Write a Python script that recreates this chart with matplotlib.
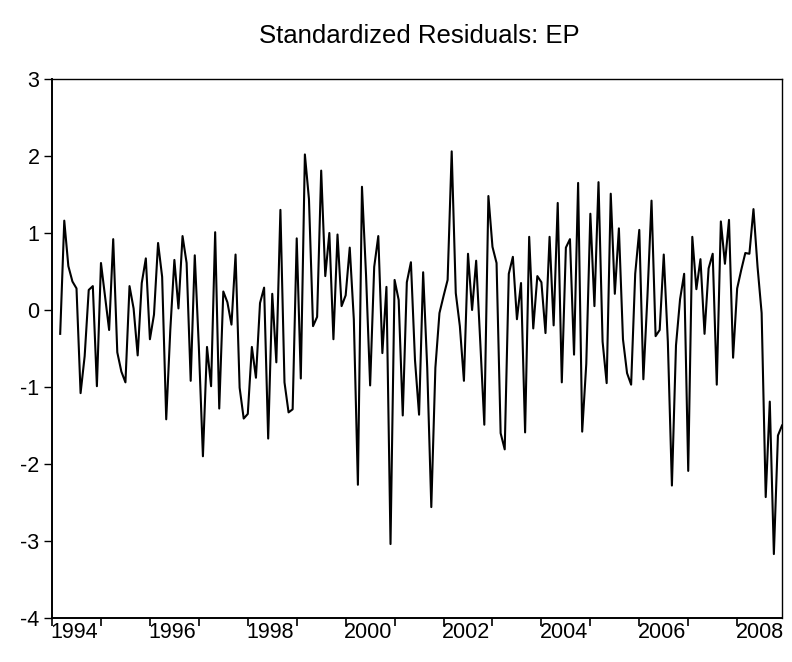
import matplotlib
matplotlib.use("Agg")
import matplotlib.pyplot as plt
import numpy as np

plt.rcParams['font.family'] = ['Liberation Sans', 'DejaVu Sans']
plt.rcParams['axes.unicode_minus'] = False

# monthly standardized residuals, 1994M03 .. 2008M12
resid = [
    -0.31, 1.16, 0.57, 0.37, 0.28, -1.08, -0.60, 0.26, 0.31, -0.99,
    0.61, 0.18, -0.26, 0.92, -0.55, -0.80, -0.94, 0.31, 0.02, -0.59,
    0.35, 0.67, -0.38, -0.06, 0.87, 0.43, -1.42, -0.26, 0.65, 0.02,
    0.96, 0.61, -0.92, 0.71, -0.48, -1.90, -0.48, -0.99, 1.01, -1.28,
    0.24, 0.10, -0.19, 0.72, -1.01, -1.41, -1.35, -0.48, -0.88, 0.09,
    0.29, -1.67, 0.21, -0.68, 1.30, -0.94, -1.33, -1.29, 0.93, -0.89,
    2.02, 1.44, -0.21, -0.09, 1.81, 0.44, 1.00, -0.38, 0.98, 0.05,
    0.19, 0.81, -0.12, -2.27, 1.60, 0.45, -0.98, 0.56, 0.96, -0.56,
    0.30, -3.04, 0.39, 0.13, -1.37, 0.36, 0.62, -0.65, -1.36, 0.49,
    -0.75, -2.56, -0.75, -0.04, 0.18, 0.39, 2.06, 0.22, -0.21, -0.92,
    0.73, 0.00, 0.64, -0.41, -1.49, 1.48, 0.82, 0.61, -1.60, -1.81,
    0.47, 0.69, -0.12, 0.35, -1.59, 0.95, -0.24, 0.44, 0.36, -0.30,
    0.95, -0.20, 1.39, -0.94, 0.81, 0.92, -0.58, 1.65, -1.58, -0.70,
    1.25, 0.05, 1.66, -0.41, -0.95, 1.51, 0.21, 1.06, -0.38, -0.82,
    -0.97, 0.47, 1.04, -0.90, 0.18, 1.42, -0.34, -0.26, 0.72, -0.41,
    -2.28, -0.46, 0.14, 0.47, -2.09, 0.95, 0.27, 0.66, -0.31, 0.54,
    0.73, -0.97, 1.15, 0.60, 1.17, -0.62, 0.28, 0.52, 0.74, 0.73,
    1.31, 0.56, -0.04, -2.43, -1.19, -3.17, -1.63, -1.50,
]
first_year = 1994
first_month = 3
years = list(range(1994, 2009))
label_years = [1994, 1996, 1998, 2000, 2002, 2004, 2006, 2008]

# x in months counted from January of first_year
x = (first_month - 1) + np.arange(len(resid))

fig = plt.figure(figsize=(7.92, 6.62), dpi=100)
ax = fig.add_axes([0.0657, 0.0665, 0.9217, 0.8142])
ax.plot(x, resid, color='black', lw=1.5)

ax.set_xlim(0, x[-1])
ax.set_ylim(-4, 3)
ax.set_yticks(range(-4, 4))

# year boundaries as ticks, labels centred in the year
ax.set_xticks([(y - first_year) * 12 for y in years])
ax.set_xticklabels([])
ax.set_xticks([(y - first_year) * 12 + 5.5 for y in label_years], minor=True)
ax.set_xticklabels([str(y) for y in label_years], minor=True)
ax.tick_params(axis='x', which='minor', length=0, pad=3, labelsize=15.5)
ax.tick_params(axis='x', which='major', length=6, width=1.2)
ax.tick_params(axis='y', length=6, width=1.0, labelsize=15.5, pad=3)

for side in ['left', 'bottom']:
    ax.spines[side].set_linewidth(1.4)
for side in ['top', 'right']:
    ax.spines[side].set_linewidth(1.0)

fig.text(0.53, 0.946, 'Standardized Residuals: EP', ha='center', va='center', fontsize=18.5)

fig.savefig('out.png', dpi=100)
